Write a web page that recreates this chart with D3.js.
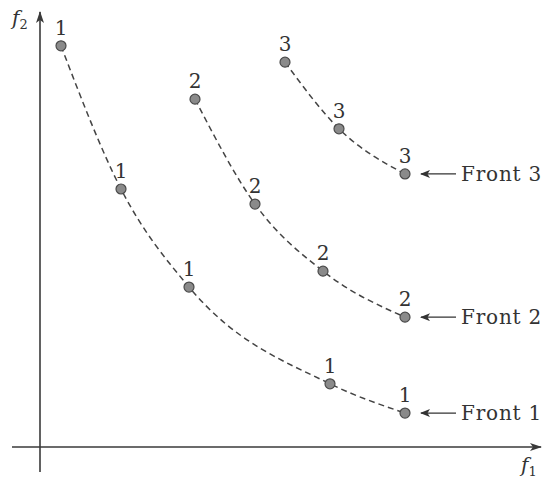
<!DOCTYPE html>
<html>
<head>
<meta charset="utf-8">
<script src="https://cdn.jsdelivr.net/npm/d3@7"></script>
<style>
  html, body { margin: 0; padding: 0; background: #fff; }
  svg { display: block; }
  text { font-family: "DejaVu Serif", "Liberation Serif", serif; fill: #333; }
</style>
</head>
<body>
<svg id="chart" width="547" height="482"></svg>
<script>
// Non-dominated fronts in objective space (f1, f2)
const front1F1 = [0.42, 1.62, 2.98, 5.80, 7.30];
const front1F2 = [9.33, 6.00, 3.72, 1.47, 0.79];
const front2F1 = [3.10, 4.30, 5.66, 7.30];
const front2F2 = [8.09, 5.65, 4.09, 3.02];
const front3F1 = [4.90, 5.98, 7.30];
const front3F2 = [8.95, 7.40, 6.35];
const frontRanks = [1, 2, 3];
const frontNames = ["Front 1", "Front 2", "Front 3"];

const fronts = [
  { rank: frontRanks[0], name: frontNames[0], f1: front1F1, f2: front1F2 },
  { rank: frontRanks[1], name: frontNames[1], f1: front2F1, f2: front2F2 },
  { rank: frontRanks[2], name: frontNames[2], f1: front3F1, f2: front3F2 }
];

const svg = d3.select("#chart");
const x = d3.scaleLinear().domain([0, 10]).range([40, 540]);
const y = d3.scaleLinear().domain([0, 10]).range([447, 17]);

const axisColor = "#3a3a3a";
const defs = svg.append("defs");
defs.append("marker")
  .attr("id", "axisHead")
  .attr("viewBox", "0 0 12 8")
  .attr("refX", 11).attr("refY", 4)
  .attr("markerWidth", 12).attr("markerHeight", 8)
  .attr("markerUnits", "userSpaceOnUse")
  .attr("orient", "auto")
  .append("path").attr("d", "M0,0 L12,4 L0,8 L3,4 Z").attr("fill", axisColor);
defs.append("marker")
  .attr("id", "labelHead")
  .attr("viewBox", "0 0 10 8")
  .attr("refX", 9).attr("refY", 4)
  .attr("markerWidth", 10).attr("markerHeight", 8)
  .attr("markerUnits", "userSpaceOnUse")
  .attr("orient", "auto")
  .append("path").attr("d", "M0,0 L10,4 L0,8 L2.5,4 Z").attr("fill", "#333");

// Axes with arrowheads
svg.append("line")
  .attr("x1", x(0)).attr("y1", 472).attr("x2", x(0)).attr("y2", 12)
  .attr("stroke", axisColor).attr("stroke-width", 1.6)
  .attr("marker-end", "url(#axisHead)");
svg.append("line")
  .attr("x1", 12).attr("y1", y(0)).attr("x2", 541).attr("y2", y(0))
  .attr("stroke", axisColor).attr("stroke-width", 1.6)
  .attr("marker-end", "url(#axisHead)");

// Axis titles
const f2Label = svg.append("text").attr("x", 12).attr("y", 25)
  .attr("font-size", 20).attr("font-style", "italic");
f2Label.append("tspan").text("f");
f2Label.append("tspan").attr("font-size", 13).attr("font-style", "normal").attr("dy", 4).text("2");
const f1Label = svg.append("text").attr("x", 521).attr("y", 472)
  .attr("font-size", 20).attr("font-style", "italic");
f1Label.append("tspan").text("f");
f1Label.append("tspan").attr("font-size", 13).attr("font-style", "normal").attr("dy", 4).text("1");

const line = d3.line()
  .x(d => x(d[0])).y(d => y(d[1]))
  .curve(d3.curveMonotoneX);

fronts.forEach(fr => {
  const pts = fr.f1.map((v, i) => [v, fr.f2[i]]);
  svg.append("path")
    .attr("d", line(pts))
    .attr("fill", "none")
    .attr("stroke", "#444")
    .attr("stroke-width", 1.5)
    .attr("stroke-dasharray", "6,4");

  const g = svg.append("g");
  g.selectAll("circle").data(pts).join("circle")
    .attr("cx", d => x(d[0])).attr("cy", d => y(d[1]))
    .attr("r", 5)
    .attr("fill", "#8a8a8a").attr("stroke", "#4a4a4a").attr("stroke-width", 1.2);
  g.selectAll("text").data(pts).join("text")
    .attr("x", d => x(d[0])).attr("y", d => y(d[1]) - 11)
    .attr("text-anchor", "middle")
    .attr("font-size", 20)
    .text(fr.rank);

  // Front label with arrow pointing at the last member
  const last = pts[pts.length - 1];
  const ly = y(last[1]);
  svg.append("line")
    .attr("x1", 456).attr("y1", ly).attr("x2", x(last[0]) + 16).attr("y2", ly)
    .attr("stroke", "#333").attr("stroke-width", 1.3)
    .attr("marker-end", "url(#labelHead)");
  svg.append("text")
    .attr("x", 461).attr("y", ly + 7)
    .attr("font-size", 20)
    .attr("letter-spacing", 0.8)
    .text(fr.name);
});
</script>
</body>
</html>
